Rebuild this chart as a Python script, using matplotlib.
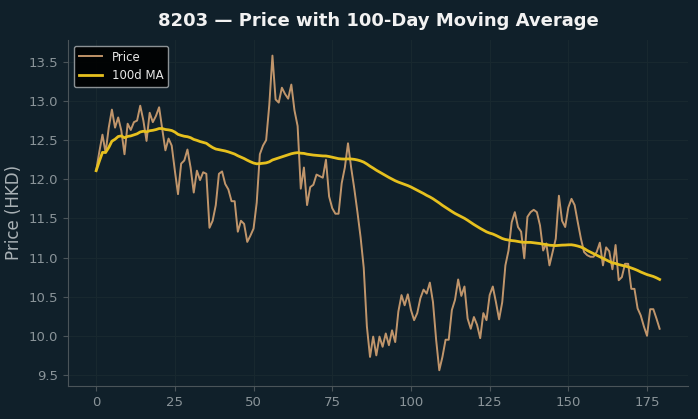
import numpy as np
import pandas as pd
import matplotlib
matplotlib.use("Agg")
import matplotlib.pyplot as plt

title = "8203 — Price with 100-Day Moving Average"
ylabel = "Price (HKD)"
ma_window = 100

price = [
    12.11, 12.35, 12.57, 12.34, 12.66, 12.89, 12.66, 12.79, 12.62, 12.32,
    12.71, 12.63, 12.73, 12.75, 12.94, 12.75, 12.49, 12.85, 12.73, 12.81,
    12.92, 12.64, 12.37, 12.52, 12.43, 12.11, 11.81, 12.20, 12.24, 12.38,
    12.15, 11.83, 12.11, 11.99, 12.09, 12.07, 11.38, 11.47, 11.67, 12.07,
    12.10, 11.94, 11.87, 11.72, 11.72, 11.33, 11.47, 11.43, 11.20, 11.28,
    11.37, 11.70, 12.32, 12.43, 12.50, 12.95, 13.58, 13.02, 12.98, 13.17,
    13.09, 13.03, 13.21, 12.88, 12.68, 11.88, 12.15, 11.67, 11.90, 11.93,
    12.06, 12.04, 12.02, 12.25, 11.78, 11.63, 11.56, 11.56, 11.95, 12.15,
    12.46, 12.15, 11.88, 11.58, 11.26, 10.87, 10.12, 9.73, 9.99, 9.75,
    9.99, 9.86, 10.03, 9.88, 10.07, 9.92, 10.31, 10.52, 10.39, 10.53,
    10.33, 10.20, 10.29, 10.48, 10.59, 10.54, 10.68, 10.43, 9.95, 9.56,
    9.73, 9.95, 9.95, 10.33, 10.46, 10.72, 10.51, 10.63, 10.22, 10.09,
    10.24, 10.14, 9.97, 10.29, 10.20, 10.52, 10.63, 10.43, 10.21, 10.43,
    10.90, 11.09, 11.45, 11.58, 11.39, 11.33, 10.99, 11.52, 11.58, 11.61,
    11.58, 11.41, 11.09, 11.18, 10.90, 11.07, 11.24, 11.79, 11.47, 11.39,
    11.64, 11.75, 11.67, 11.45, 11.24, 11.07, 11.03, 11.01, 11.01, 11.07,
    11.19, 10.90, 11.13, 11.08, 10.85, 11.16, 10.71, 10.75, 10.92, 10.92,
    10.60, 10.60, 10.35, 10.26, 10.12, 10.00, 10.34, 10.34, 10.22, 10.09,
]

days = np.arange(len(price))
ma = pd.Series(price).rolling(ma_window, min_periods=1).mean()

bg = "#10202a"
fig = plt.figure(figsize=(6.98, 4.19), dpi=100, facecolor=bg)
ax = fig.add_axes([0.0974, 0.0788, 0.888, 0.826])
ax.set_facecolor(bg)

ax.plot(days, price, color="#d4a373", lw=1.4, alpha=0.9, label="Price")
ax.plot(days, ma, color="#e6c01e", lw=2.0, label="100d MA")

ax.grid(True, color="#18282f", lw=0.8)
ax.set_axisbelow(True)
for s in ["top", "right"]:
    ax.spines[s].set_visible(False)
for s in ["left", "bottom"]:
    ax.spines[s].set_color("#4a5459")
ax.tick_params(colors="#4a5459", labelcolor="#8a9499", labelsize=9.5)
ax.set_xticks([0, 25, 50, 75, 100, 125, 150, 175])
ax.set_yticks([9.5, 10.0, 10.5, 11.0, 11.5, 12.0, 12.5, 13.0, 13.5])

ax.set_ylabel(ylabel, color="#aab2b6", fontsize=12)
ax.set_title(title, color="#f2f2f2", fontsize=13, fontweight="bold", pad=10)

leg = ax.legend(loc="upper left", facecolor="#000000", edgecolor="#9aa0a3",
                fontsize=8.5, framealpha=0.9)
for t in leg.get_texts():
    t.set_color("#e8e8e8")

fig.savefig("out.png", dpi=100, facecolor=bg)
